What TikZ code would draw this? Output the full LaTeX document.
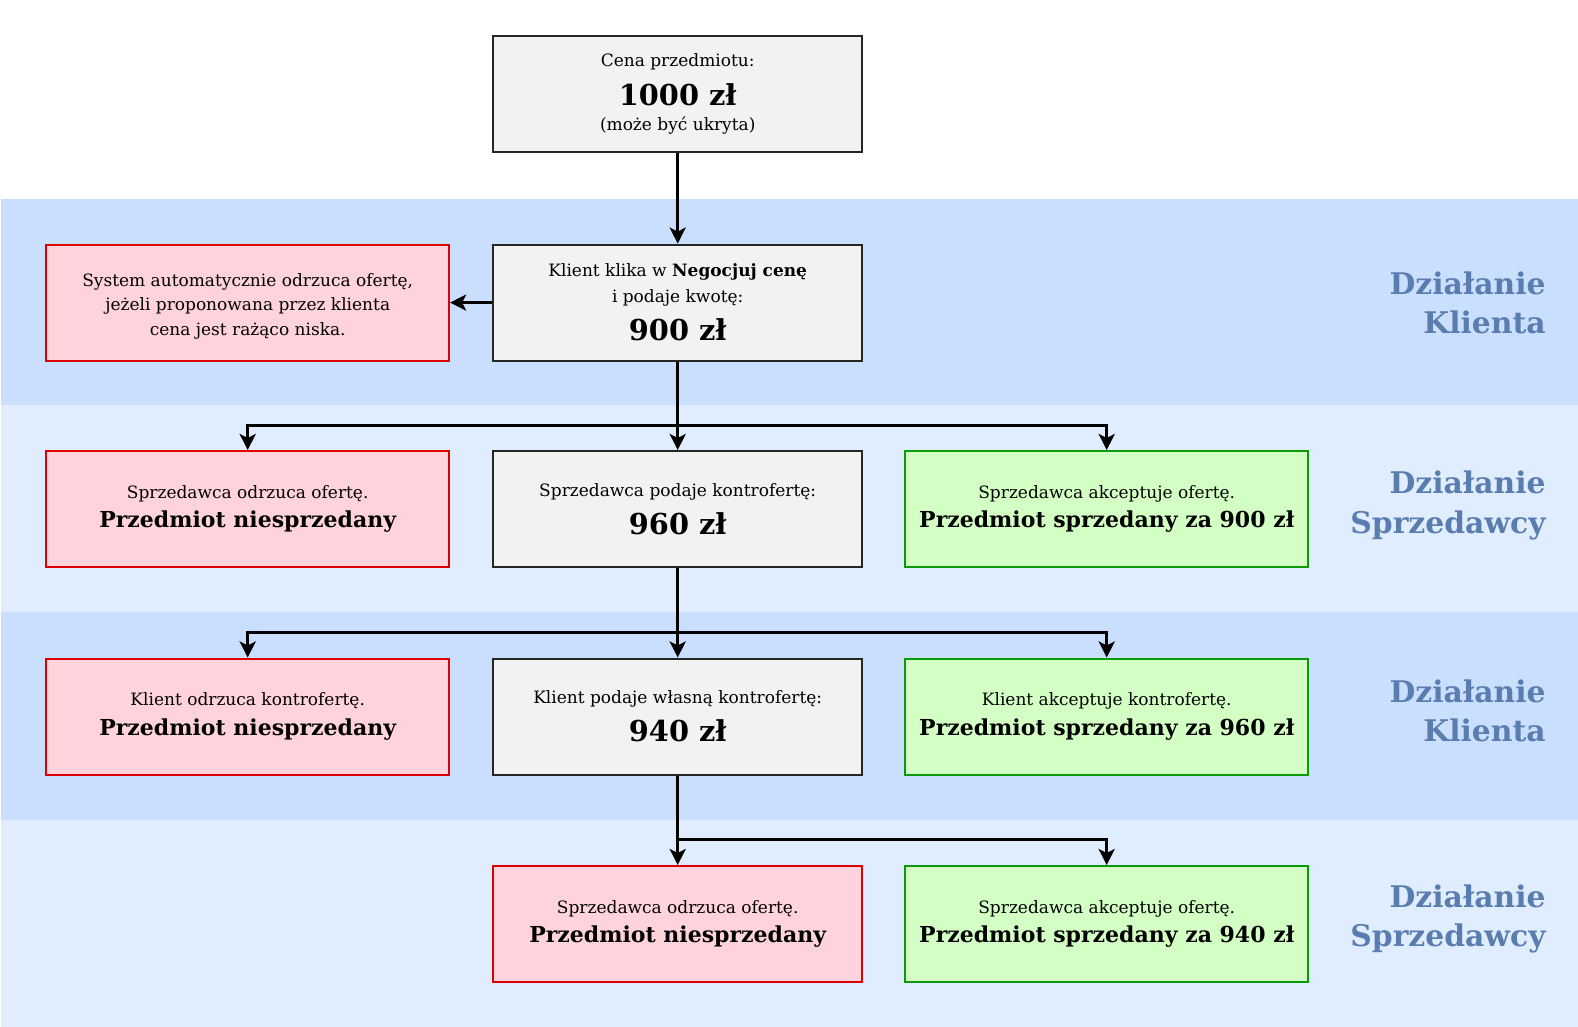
\documentclass[tikz,border=0pt]{standalone}
\usepackage{fontspec}
\setmainfont{DejaVu Serif}
\usetikzlibrary{arrows.meta}
\definecolor{bandA}{HTML}{CADFFD}
\definecolor{bandB}{HTML}{E0EDFF}
\definecolor{grayfill}{HTML}{F2F2F2}
\definecolor{redfill}{HTML}{FFD3DB}
\definecolor{redline}{HTML}{DD0000}
\definecolor{greenfill}{HTML}{D3FFC4}
\definecolor{greenline}{HTML}{0A9A0A}
\definecolor{titleblue}{HTML}{5A7DB0}
\newcommand{\regf}{\fontsize{8.5pt}{12.2pt}\selectfont}
\newcommand{\boldf}{\fontsize{11pt}{12pt}\selectfont\bfseries}
\newcommand{\bigf}{\fontsize{14.4pt}{12pt}\selectfont\bfseries}
\tikzset{
  box/.style={draw, line width=1pt, minimum width=184.3pt, minimum height=58pt, inner sep=0pt, align=center, font=\regf},
  graybox/.style={box, fill=grayfill, draw=black!85},
  redbox/.style={box, fill=redfill, draw=redline, minimum width=201.4pt},
  greenbox/.style={box, fill=greenfill, draw=greenline, minimum width=201.4pt},
  arr/.style={line width=1.5pt, -{Stealth[length=8pt,width=8pt,inset=2pt]}},
  lanetitle/.style={anchor=east, align=right, inner sep=0pt, text=titleblue, font=\fontsize{14.9pt}{19.6pt}\selectfont\bfseries}
}
\begin{document}
\begin{tikzpicture}[x=0.5pt,y=-0.5pt]
\useasboundingbox (0,0) rectangle (1578,1027);
% bands
\fill[bandA] (1,199) rectangle (1578,405);
\fill[bandB] (1,405) rectangle (1578,612);
\fill[bandA] (1,612) rectangle (1578,820);
\fill[bandB] (1,820) rectangle (1578,1027);
% lane titles
\node[lanetitle] (t1) at (1546,303) {Działanie\\Klienta};
\node[lanetitle] (t2) at (1546,505.5) {Działanie\\Sprzedawcy};
\node[lanetitle] (t3) at (1546,711) {Działanie\\Klienta};
\node[lanetitle] (t4) at (1546,919) {Działanie\\Sprzedawcy};
% nodes
\node[graybox] (top) at (677.7,94.2) {Cena przedmiotu:\\[5.5pt]{\bigf 1000 zł}\\[0.5pt](może być ukryta)};
\node[graybox] (k1) at (677.7,302.6) {Klient klika w \textbf{Negocjuj cenę}\\[0.5pt]i podaje kwotę:\\[5.5pt]{\bigf 900 zł}};
\node[redbox] (sys) at (247.7,302.6) {\rule{0pt}{10pt}System automatycznie odrzuca ofertę,\\jeżeli proponowana przez klienta\\cena jest rażąco niska.};
\node[redbox] (r2a) at (247.7,509) {Sprzedawca odrzuca ofertę.\\[2.5pt]{\boldf Przedmiot niesprzedany}};
\node[graybox] (r2b) at (677.7,509) {Sprzedawca podaje kontrofertę:\\[5pt]{\bigf 960 zł}};
\node[greenbox] (r2c) at (1106.7,509) {Sprzedawca akceptuje ofertę.\\[2.5pt]{\boldf Przedmiot sprzedany za 900 zł}};
\node[redbox] (r3a) at (247.7,716.5) {Klient odrzuca kontrofertę.\\[2.5pt]{\boldf Przedmiot niesprzedany}};
\node[graybox] (r3b) at (677.7,716.5) {Klient podaje własną kontrofertę:\\[5pt]{\bigf 940 zł}};
\node[greenbox] (r3c) at (1106.7,716.5) {Klient akceptuje kontrofertę.\\[2.5pt]{\boldf Przedmiot sprzedany za 960 zł}};
\node[redbox, minimum width=184.3pt] (r4a) at (677.7,924) {Sprzedawca odrzuca ofertę.\\[2.5pt]{\boldf Przedmiot niesprzedany}};
\node[greenbox] (r4b) at (1106.7,924) {Sprzedawca akceptuje ofertę.\\[2.5pt]{\boldf Przedmiot sprzedany za 940 zł}};
% connectors
\coordinate (j1) at (677.7,425);
\coordinate (j2) at (677.7,632.4);
\coordinate (j3) at (677.7,839.8);
\draw[arr] (top) -- (k1);
\draw[arr] (k1.west) -- (sys.east);
\draw[arr] (k1) -- (r2b);
\draw[arr] (j1) -| (r2a.north);
\draw[arr] (j1) -| (r2c.north);
\draw[arr] (r2b) -- (r3b);
\draw[arr] (j2) -| (r3a.north);
\draw[arr] (j2) -| (r3c.north);
\draw[arr] (r3b) -- (r4a);
\draw[arr] (j3) -| (r4b.north);
\end{tikzpicture}
\end{document}
